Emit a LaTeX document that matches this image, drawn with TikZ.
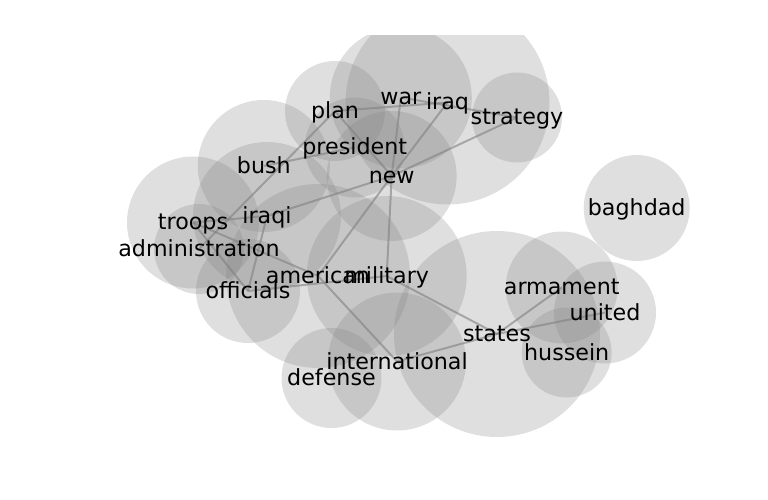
\documentclass[tikz,border=0pt]{standalone}
\usepackage{fontspec}
\setmainfont{DejaVu Sans}
\tikzset{
 bubble/.style={fill=gray,fill opacity=.25},
 link/.style={draw=gray,line width=2bp,draw opacity=.6},
 word/.style={inner sep=0,text height=18.5bp,text depth=3.5bp,font=\fontsize{22.2bp}{26bp}\selectfont}
}
\begin{document}
\begin{tikzpicture}[x=1bp,y=-1bp]
\path[use as bounding box] (0,0) rectangle (768,500);
\coordinate (plan) at (335,111);
\coordinate (war) at (400.8,97.5);
\coordinate (iraq) at (447.5,102.5);
\coordinate (strategy) at (517,117.5);
\coordinate (president) at (354.7,147.5);
\coordinate (new) at (391.7,176);
\coordinate (bush) at (263.8,166);
\coordinate (iraqi) at (267,216);
\coordinate (troops) at (193,222.5);
\coordinate (administration) at (199,249);
\coordinate (american) at (318,276);
\coordinate (military) at (386.7,276);
\coordinate (officials) at (248,291);
\coordinate (armament) at (561.7,287.5);
\coordinate (united) at (605,312.5);
\coordinate (states) at (497,334);
\coordinate (hussein) at (566.7,352.5);
\coordinate (international) at (397,361.5);
\coordinate (defense) at (331.5,378);
\coordinate (baghdad) at (636.7,208);
\begin{scope}
\clip (0,36) rectangle (768,500);
\fill[bubble] (plan) circle[radius=50bp];
\fill[bubble] (war) circle[radius=71bp];
\fill[bubble] (iraq) circle[radius=102bp];
\fill[bubble] (strategy) circle[radius=45bp];
\fill[bubble] (president) circle[radius=50bp];
\fill[bubble] (new) circle[radius=65bp];
\fill[bubble] (bush) circle[radius=66bp];
\fill[bubble] (iraqi) circle[radius=74bp];
\fill[bubble] (troops) circle[radius=66bp];
\fill[bubble] (administration) circle[radius=45bp];
\fill[bubble] (american) circle[radius=92bp];
\fill[bubble] (military) circle[radius=80bp];
\fill[bubble] (officials) circle[radius=52bp];
\fill[bubble] (armament) circle[radius=56bp];
\fill[bubble] (united) circle[radius=51bp];
\fill[bubble] (states) circle[radius=103bp];
\fill[bubble] (hussein) circle[radius=45bp];
\fill[bubble] (international) circle[radius=69bp];
\fill[bubble] (defense) circle[radius=50bp];
\fill[bubble] (baghdad) circle[radius=53bp];
\end{scope}
\draw[link] (plan) -- (iraq);
\draw[link] (war) -- (strategy);
\draw[link] (plan) -- (new);
\draw[link] (war) -- (new);
\draw[link] (iraq) -- (new);
\draw[link] (strategy) -- (new);
\draw[link] (bush) -- (president);
\draw[link] (plan) -- (administration);
\draw[link] (troops) -- (iraqi);
\draw[link] (iraqi) -- (new);
\draw[link] (iraqi) -- (officials);
\draw[link] (troops) -- (american);
\draw[link] (troops) -- (officials);
\draw[link] (officials) -- (military);
\draw[link] (new) -- (american);
\draw[link] (new) -- (military);
\draw[link] (american) -- (international);
\draw[link] (military) -- (states);
\draw[link] (international) -- (states);
\draw[link] (states) -- (armament);
\draw[link] (states) -- (united);
\node[word] (plan-w) at (plan) {plan};
\node[word] (war-w) at (war) {war};
\node[word] (iraq-w) at (iraq) {iraq};
\node[word] (strategy-w) at (strategy) {strategy};
\node[word] (president-w) at (president) {president};
\node[word] (new-w) at (new) {new};
\node[word] (bush-w) at (bush) {bush};
\node[word] (iraqi-w) at (iraqi) {iraqi};
\node[word] (troops-w) at (troops) {troops};
\node[word] (administration-w) at (administration) {administration};
\node[word] (american-w) at (american) {american};
\node[word] (military-w) at (military) {military};
\node[word] (officials-w) at (officials) {officials};
\node[word] (armament-w) at (armament) {armament};
\node[word] (united-w) at (united) {united};
\node[word] (states-w) at (states) {states};
\node[word] (hussein-w) at (hussein) {hussein};
\node[word] (international-w) at (international) {international};
\node[word] (defense-w) at (defense) {defense};
\node[word] (baghdad-w) at (baghdad) {baghdad};
\end{tikzpicture}
\end{document}
